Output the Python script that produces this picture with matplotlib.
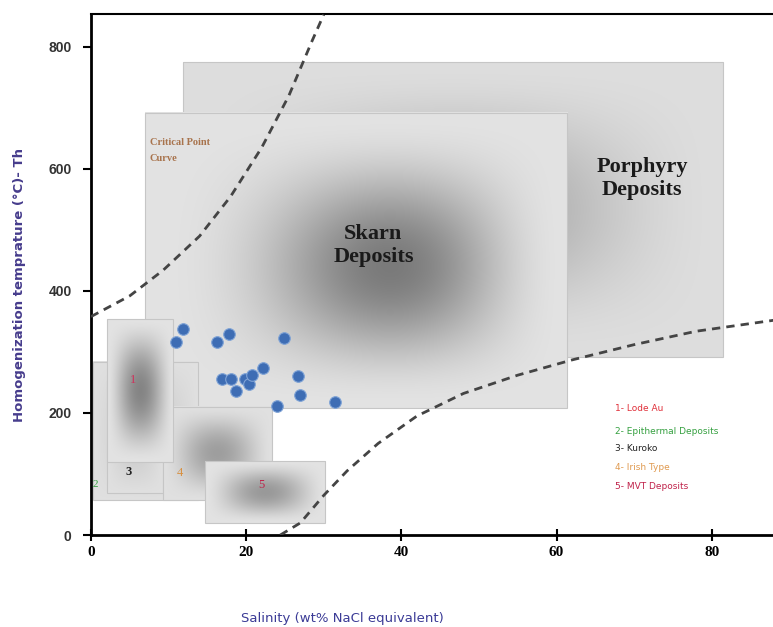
import numpy as np
import matplotlib
matplotlib.use("Agg")
import matplotlib.pyplot as plt
from matplotlib.patches import Rectangle

# fluid inclusion data: salinity (wt% NaCl eq.) vs homogenization temperature (C)
salinity = [11.8, 10.9, 16.3, 17.8, 24.9, 16.9, 18.0, 18.7, 19.8, 20.4,
            20.7, 22.2, 26.7, 26.9, 24.0, 31.4]
temperature = [337, 317, 317, 330, 323, 256, 256, 236, 256, 247,
               262, 274, 261, 230, 212, 218]

# deposit fields (drawn bottom to top)
box_name = ["porphyry", "skarn", "epithermal", "kuroko", "irish", "lode", "mvt"]
box_x0 = [11.9, 7.0, 0.3, 2.1, 9.3, 2.0, 14.7]
box_x1 = [81.5, 61.4, 13.8, 9.3, 23.3, 10.6, 30.2]
box_y0 = [292, 208, 57, 69, 57, 120, 20]
box_y1 = [775, 692, 284, 254, 210, 354, 121]

# critical point curve and the lower dashed curve
crit_x = [0, 5, 9.3, 14, 18, 22, 25.5, 28.5, 30]
crit_y = [358, 392, 434, 490, 555, 635, 720, 810, 853]
low_x = [24.4, 27, 30, 33, 37, 42, 48, 55, 62, 70, 78, 88]
low_y = [0, 20, 65, 105, 150, 195, 232, 262, 287, 312, 334, 352]

legend_labels = ["1- Lode Au", "2- Epithermal Deposits", "3- Kuroko",
                 "4- Irish Type", "5- MVT Deposits"]
legend_colors = ["#e0303a", "#35a040", "#222222", "#e09a50", "#c0224a"]


def grad_box(ax, x0, x1, y0, y1, edge, center, power, z, cx=0.5, cy=0.5):
    """rectangle with a soft gradient fill, dark around (cx, cy)"""
    X, Y = np.meshgrid(np.linspace(0, 1, 240), np.linspace(0, 1, 240))
    # warp so the darkest spot sits at (cx, cy)
    Xw = X ** (np.log(0.5) / np.log(cx))
    Yw = Y ** (np.log(0.5) / np.log(cy))
    f = np.sin(np.pi * Xw) * np.sin(np.pi * Yw)
    g = edge - (edge - center) * f ** power
    rgb = np.dstack([g, g, g])
    ax.imshow(rgb, extent=(x0, x1, y0, y1), origin="lower", aspect="auto",
              zorder=z, interpolation="bilinear")
    ax.add_patch(Rectangle((x0, y0), x1 - x0, y1 - y0, fill=False,
                           edgecolor="#c6c6c6", lw=0.8, zorder=z + 0.01))


fig = plt.figure(figsize=(7.73, 6.27), dpi=100)
ax = fig.add_axes([0.1177, 0.1467, 0.8823, 0.831])

shades = {
    "porphyry": (0.87, 0.64, 2.0, 0.5, 0.5),
    "skarn": (0.89, 0.48, 2.2, 0.58, 0.48),
    "epithermal": (0.88, 0.80, 1.0, 0.5, 0.5),
    "kuroko": (0.88, 0.80, 1.0, 0.5, 0.5),
    "irish": (0.88, 0.62, 1.6, 0.5, 0.5),
    "lode": (0.89, 0.52, 1.6, 0.5, 0.5),
    "mvt": (0.89, 0.60, 1.6, 0.5, 0.5),
}
for i, name in enumerate(box_name):
    edge, center, power, cx, cy = shades[name]
    grad_box(ax, box_x0[i], box_x1[i], box_y0[i], box_y1[i],
             edge, center, power, 1 + i * 0.1, cx, cy)

ax.plot(crit_x, crit_y, ls=(0, (3, 2.2)), color="#444444", lw=2, zorder=3)
ax.plot(low_x, low_y, ls=(0, (3, 2.2)), color="#444444", lw=2, zorder=3)

ax.scatter(salinity, temperature, s=70, color="#3e6db4", edgecolor="#7fa3d6",
           linewidth=0.8, zorder=4)

serif = "Liberation Serif"
ax.text(36.4, 474, "Skarn\nDeposits", ha="center", va="center", fontsize=16,
        fontweight="bold", family=serif, color="#1a1a1a", linespacing=1.2, zorder=5)
ax.text(71.0, 585, "Porphyry\nDeposits", ha="center", va="center", fontsize=16,
        fontweight="bold", family=serif, color="#1a1a1a", linespacing=1.2, zorder=5)
ax.text(7.6, 650, "Critical Point\nCurve", ha="left", va="top", fontsize=7.5,
        fontweight="bold", family=serif, color="#a8734c", linespacing=1.9, zorder=5)

# numbers inside the small fields
ax.text(5.4, 254, "1", ha="center", va="center", fontsize=9, family=serif,
        color="#d0305a", zorder=5)
ax.text(0.6, 82, "2", ha="center", va="center", fontsize=8, family=serif,
        color="#35a040", zorder=5)
ax.text(4.8, 103, "3", ha="center", va="center", fontsize=9, family=serif,
        fontweight="bold", color="#222222", zorder=5)
ax.text(11.5, 102, "4", ha="center", va="center", fontsize=9, family=serif,
        color="#d89040", zorder=5)
ax.text(22.0, 82, "5", ha="center", va="center", fontsize=9, family=serif,
        color="#c0224a", zorder=5)

leg_y = [207, 170, 141, 111, 80]
for lab, col, yy in zip(legend_labels, legend_colors, leg_y):
    ax.text(67.6, yy, lab, ha="left", va="center", fontsize=6.5,
            color=col, zorder=5)

ax.set_xlim(0, 87.9)
ax.set_ylim(0, 854)
ax.set_xticks([0, 20, 40, 60, 80])
ax.set_yticks([0, 200, 400, 600, 800])

for lab in ax.get_xticklabels():
    lab.set_family(serif)
    lab.set_fontweight("bold")
    lab.set_fontsize(11)
for lab in ax.get_yticklabels():
    lab.set_family("Liberation Sans")
    lab.set_fontweight("bold")
    lab.set_fontsize(10)
    lab.set_color("#333333")

ax.tick_params(axis="x", direction="inout", length=8, width=1.5, pad=4)
ax.tick_params(axis="y", direction="out", length=6, width=1.5, pad=8)

for side in ["left", "bottom"]:
    ax.spines[side].set_linewidth(2)
ax.spines["top"].set_linewidth(1.5)
ax.spines["right"].set_visible(False)

ax.set_xlabel("Salinity (wt% NaCl equivalent)", fontsize=9.5, color="#3b3b96")
ax.xaxis.set_label_coords(0.368, -0.147)
ax.set_ylabel("Homogenization temprature (°C)- Th", fontsize=9.5,
              color="#463c8c", fontweight="bold")
ax.yaxis.set_label_coords(-0.095, 0.48)

fig.savefig("out.png", dpi=100)
